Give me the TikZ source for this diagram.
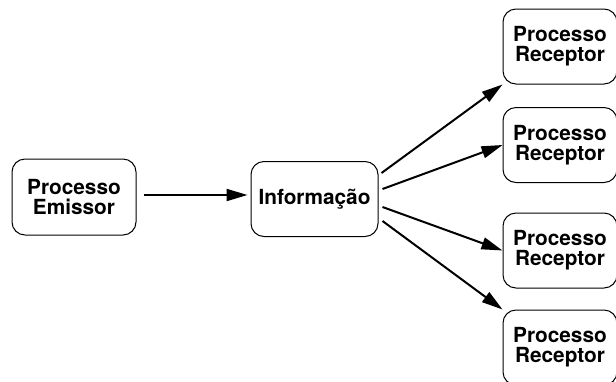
\documentclass[tikz,border=0pt]{standalone}
\usepackage{fontspec}
\setmainfont{TeX Gyre Heros}
\usetikzlibrary{arrows.meta, positioning}

\begin{document}
\begin{tikzpicture}[
    x=0.5pt, y=-0.5pt,
    every node/.style={font=\fontsize{10.4}{10}\selectfont\bfseries},
    box/.style={rectangle, draw, line width=0.5pt, rounded corners=6.5pt, minimum width=62pt, minimum height=38pt, align=center, inner sep=0pt},
    emibox/.style={box},
    infobox/.style={box, minimum width=63.5pt, minimum height=37.5pt},
    recbox/.style={box, minimum width=57pt, minimum height=37.5pt},
    myarrow/.style={-{Triangle[length=10.5pt, width=6pt]}, line width=1pt}
]
\useasboundingbox (0,0) rectangle (616,381);

% ════════════════════════════════════════
% LEFT: EMISSOR -> INFORMACAO
% ════════════════════════════════════════
\node[emibox]  (emi)  at (74, 197)  {Processo\\Emissor};
\node[infobox] (info) at (314.5, 199) {Informação};

% ════════════════════════════════════════
% RIGHT: RECEPTORES
% ════════════════════════════════════════
\node[recbox] (rec1) at (560, 46.5)  {Processo\\Receptor};
\node[recbox] (rec2) at (560, 145)   {Processo\\Receptor};
\node[recbox] (rec3) at (560, 250.5) {Processo\\Receptor};
\node[recbox] (rec4) at (560, 347.5) {Processo\\Receptor};

\draw[myarrow, shorten >=1.5pt] ([xshift=3.5pt, yshift=1pt]emi.east) -- ([yshift=1pt]emi.east -| info.west);
\draw[myarrow] ([xshift=1.5pt, yshift=13pt]info.east)   -- (rec1.south west);
\draw[myarrow] ([xshift=2pt, yshift=5pt]info.east)      -- (rec2.west);
\draw[myarrow] ([xshift=2pt, yshift=-4pt]info.east)     -- (rec3.west);
\draw[myarrow] ([xshift=2pt, yshift=-11pt]info.east)    -- (rec4.north west);

\end{tikzpicture}
\end{document}
